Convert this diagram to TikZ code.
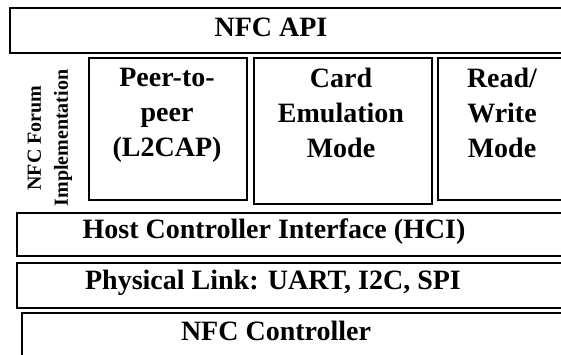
\documentclass[tikz,border=0pt]{standalone}
\usepackage{fontspec}
\setmainfont{Liberation Serif}
\usepackage{tikz}

\begin{document}
\begin{tikzpicture}[x=1pt,y=-1pt,
  layer/.style={draw,line width=1.5pt,anchor=north west,inner sep=0pt},
  big/.style={font=\fontsize{28}{35}\selectfont\bfseries,inner sep=0pt,align=center},
  small/.style={font=\fontsize{20}{27}\selectfont\bfseries,inner sep=0pt,align=center}
]
\useasboundingbox (0,0) rectangle (561,354);
\node[layer,minimum width=600pt,minimum height=45pt] (api) at (9,7) {};
\node[layer,minimum width=158pt,minimum height=142pt] (peer) at (88,57) {};
\node[layer,minimum width=178pt,minimum height=146pt] (card) at (253,57) {};
\node[layer,minimum width=130pt,minimum height=142pt] (rw) at (437,57) {};
\node[layer,minimum width=600pt,minimum height=43pt] (hci) at (16,212) {};
\node[layer,minimum width=600pt,minimum height=45pt] (phy) at (16,262) {};
\node[layer,minimum width=600pt,minimum height=80pt] (ctl) at (21,312) {};
\node[big,anchor=base] (api-t) at (271,36) {NFC API};
\node[big,anchor=north] (peer-t) at (167,68) {Peer-to-\\peer\\(L2CAP)};
\node[big,anchor=north] (card-t) at (341,68) {Card\\Emulation\\Mode};
\node[big,anchor=north] (rw-t) at (502,68) {Read/\\Write\\Mode};
\node[small,rotate=90] (forum-t) at (50,138) {NFC Forum\\Implementation};
\node[big,anchor=base] (hci-t) at (274,238) {Host Controller Interface (HCI)};
\node[big,anchor=base] (phy-t) at (273,289) {Physical Link: UART, I2C, SPI};
\node[big,anchor=base] (ctl-t) at (276,340) {NFC Controller};
\end{tikzpicture}
\end{document}
